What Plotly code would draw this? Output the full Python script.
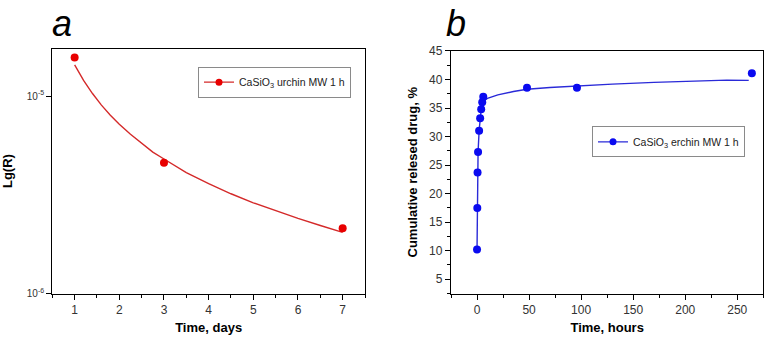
import plotly.graph_objects as go

# ---------------- data ----------------
# Panel a: Lg(R) vs time (days)
a_days = [1, 3, 7]
a_R = [1.57e-5, 4.6e-6, 2.14e-6]
# fitted curve
a_fit_days = [1, 1.2, 1.4, 1.6, 1.8, 2, 2.25, 2.5, 2.75, 3, 3.5, 4, 4.5, 5, 5.5, 6, 6.5, 7]
a_fit_R = [1.44e-5, 1.2e-5, 1.03e-5, 9.0e-6, 8.0e-6, 7.2e-6, 6.4e-6, 5.75e-6, 5.2e-6, 4.8e-6,
           4.1e-6, 3.6e-6, 3.2e-6, 2.88e-6, 2.62e-6, 2.4e-6, 2.21e-6, 2.04e-6]

# Panel b: cumulative released drug vs time (hours)
b_hours = [0, 0.25, 0.5, 1, 2, 3, 4, 5, 6, 48, 96, 264]
b_release = [10.2, 17.5, 23.7, 27.3, 31.0, 33.2, 34.8, 36.0, 37.0, 38.55, 38.55, 41.1]
b_fit_hours = [0, 0.25, 0.5, 1, 2, 3, 4, 5, 6, 10, 20, 35, 48, 70, 96, 130, 170, 210, 240, 261]
b_fit_release = [10.2, 17.5, 23.7, 27.3, 31.0, 33.2, 34.8, 35.8, 36.2, 36.7, 37.3, 37.9, 38.3, 38.6,
                 38.9, 39.2, 39.5, 39.7, 39.9, 39.85]

legend_a = "CaSiO<sub>3</sub> urchin MW 1 h"
legend_b = "CaSiO<sub>3</sub> erchin MW 1 h"
a_xticks = [1, 2, 3, 4, 5, 6, 7]
a_yticks = [1e-6, 1e-5]
a_yticktext = ["10<sup>-6</sup>", "10<sup>-5</sup>"]
a_yminor = [2e-6, 3e-6, 4e-6, 5e-6, 6e-6, 7e-6, 8e-6, 9e-6]
b_xticks = [0, 50, 100, 150, 200, 250]
b_yticks = [5, 10, 15, 20, 25, 30, 35, 40, 45]

# ---------------- style ----------------
W, H = 773, 346
FONT = "Liberation Sans, Arial, sans-serif"
RED_M = "#e80000"
RED_L = "#d42a2a"
BLUE_M = "#0a0af0"
BLUE_L = "#2a2ad8"
TICKC = "#333333"

def px_x(p):
    return p / W

def px_y(p):
    return (H - p) / H

xa_dom = [px_x(52.3), px_x(365)]
ya_dom = [px_y(297.7), px_y(43.3)]
xb_dom = [px_x(451), px_x(763.3)]
yb_dom = [px_y(297.7), px_y(45.7)]

fig = go.Figure()

# ---- panel a ----
fig.add_trace(go.Scatter(x=a_fit_days, y=a_fit_R, mode="lines",
                         line=dict(color=RED_L, width=1.4),
                         xaxis="x", yaxis="y", showlegend=False, hoverinfo="skip"))
fig.add_trace(go.Scatter(x=a_days, y=a_R, mode="markers",
                         marker=dict(color=RED_M, size=8),
                         xaxis="x", yaxis="y", showlegend=False))
fig.add_trace(go.Scatter(x=[None], y=[None], mode="lines+markers", name=legend_a,
                         line=dict(color=RED_L, width=1.4), marker=dict(color=RED_M, size=7),
                         xaxis="x", yaxis="y", legend="legend"))

# ---- panel b ----
fig.add_trace(go.Scatter(x=b_fit_hours, y=b_fit_release, mode="lines",
                         line=dict(color=BLUE_L, width=1.4),
                         xaxis="x2", yaxis="y2", showlegend=False, hoverinfo="skip"))
fig.add_trace(go.Scatter(x=b_hours, y=b_release, mode="markers",
                         marker=dict(color=BLUE_M, size=8),
                         xaxis="x2", yaxis="y2", showlegend=False))
fig.add_trace(go.Scatter(x=[None], y=[None], mode="lines+markers", name=legend_b,
                         line=dict(color=BLUE_L, width=1.4), marker=dict(color=BLUE_M, size=7),
                         xaxis="x2", yaxis="y2", legend="legend2"))

axis_common = dict(showline=True, linecolor="black", linewidth=1.3, mirror=True,
                   showgrid=False, zeroline=False, ticks="outside", ticklen=5,
                   tickwidth=1, tickcolor="black",
                   tickfont=dict(family=FONT, size=12, color=TICKC))
title_font = dict(family=FONT, size=13, color="black")
hidden = dict(showticklabels=False, showgrid=False, zeroline=False, showline=False,
              tickcolor="black", tickwidth=1)

a_xrange = [0.5, 7.5]
a_yrange = [-6, -4.76]
b_xrange = [-25, 275]
b_yrange = [2.5, 45]

fig.update_layout(
    width=W, height=H, margin=dict(l=0, r=0, t=0, b=0),
    paper_bgcolor="white", plot_bgcolor="white",
    showlegend=True,
    xaxis=dict(domain=xa_dom, anchor="y", range=a_xrange, tickmode="array", tickvals=a_xticks,
               minor=dict(ticks="outside", ticklen=3, tickcolor="black", dtick=0.5, tick0=0.5),
               title=dict(text="<b>Time, days</b>", font=title_font, standoff=6),
               **axis_common),
    yaxis=dict(domain=ya_dom, anchor="x", type="log", range=a_yrange, tickmode="array",
               tickvals=a_yticks, ticktext=a_yticktext,
               title=dict(text="<b>Lg(R)</b>", font=title_font, standoff=12),
               **{**axis_common, "tickfont": dict(family=FONT, size=10, color=TICKC)}),
    # inward mirror ticks / log minor ticks for panel a
    xaxis3=dict(overlaying="x", anchor="y", side="top", range=a_xrange, tickmode="array",
                tickvals=a_xticks, ticks="inside", ticklen=5,
                minor=dict(ticks="inside", ticklen=3, tickcolor="black", dtick=0.5, tick0=0.5),
                **hidden),
    yaxis3=dict(overlaying="y", anchor="x", side="right", type="log", range=a_yrange,
                tickmode="array", tickvals=a_yticks, ticks="inside", ticklen=5, **hidden),
    yaxis5=dict(overlaying="y", anchor="x", side="left", type="log", range=a_yrange,
                tickmode="array", tickvals=a_yminor, ticks="outside", ticklen=3, **hidden),
    yaxis6=dict(overlaying="y", anchor="x", side="right", type="log", range=a_yrange,
                tickmode="array", tickvals=a_yminor, ticks="inside", ticklen=3, **hidden),
    xaxis2=dict(domain=xb_dom, anchor="y2", range=b_xrange, tickmode="array", tickvals=b_xticks,
                minor=dict(ticks="outside", ticklen=3, tickcolor="black", dtick=25, tick0=-25),
                title=dict(text="<b>Time, hours</b>", font=title_font, standoff=6),
                **axis_common),
    yaxis2=dict(domain=yb_dom, anchor="x2", range=b_yrange, tickmode="array", tickvals=b_yticks,
                minor=dict(ticks="outside", ticklen=3, tickcolor="black", dtick=2.5, tick0=2.5),
                title=dict(text="<b>Cumulative relesed drug, %</b>", font=title_font, standoff=8),
                **axis_common),
    xaxis4=dict(overlaying="x2", anchor="y2", side="top", range=b_xrange, tickmode="array",
                tickvals=b_xticks, ticks="inside", ticklen=5,
                minor=dict(ticks="inside", ticklen=3, tickcolor="black", dtick=25, tick0=-25),
                **hidden),
    yaxis4=dict(overlaying="y2", anchor="x2", side="right", range=b_yrange, tickmode="array",
                tickvals=b_yticks, ticks="inside", ticklen=5,
                minor=dict(ticks="inside", ticklen=3, tickcolor="black", dtick=2.5, tick0=2.5),
                **hidden),
    legend=dict(x=px_x(198), y=px_y(62), xanchor="left", yanchor="top",
                bgcolor="white", bordercolor="#8a8a8a", borderwidth=1, itemwidth=30,
                font=dict(family=FONT, size=10.5, color="#222")),
    legend2=dict(x=px_x(592), y=px_y(124), xanchor="left", yanchor="top",
                 bgcolor="white", bordercolor="#8a8a8a", borderwidth=1, itemwidth=30,
                 font=dict(family=FONT, size=10.5, color="#222")),
    annotations=[
        dict(text="<i>a</i>", x=px_x(50), y=1, xref="paper", yref="paper",
             xanchor="left", yanchor="top", showarrow=False, yshift=6,
             font=dict(family=FONT, size=36, color="black")),
        dict(text="<i>b</i>", x=px_x(444), y=1, xref="paper", yref="paper",
             xanchor="left", yanchor="top", showarrow=False, yshift=6,
             font=dict(family=FONT, size=36, color="black")),
    ],
)

fig.write_html("out.html")
